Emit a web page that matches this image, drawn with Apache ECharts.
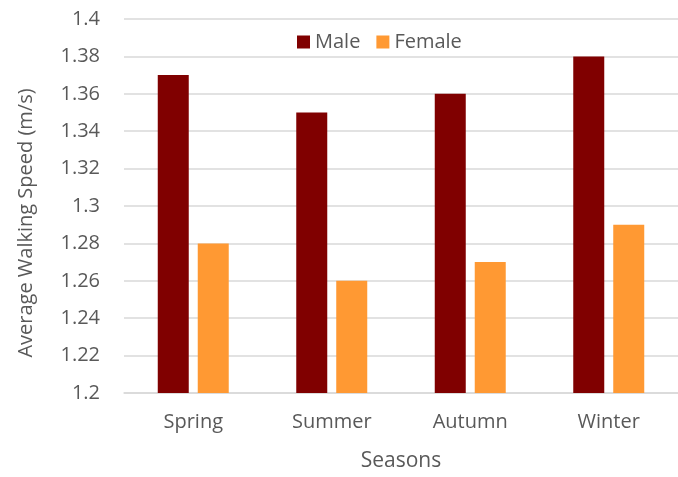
<!DOCTYPE html>
<html>
<head>
<meta charset="utf-8">
<script src="https://cdn.jsdelivr.net/npm/echarts@6/dist/echarts.min.js"></script>
<style>
  html, body { margin: 0; padding: 0; background: #fff; }
  #chart { width: 678px; height: 477px; }
</style>
</head>
<body>
<div id="chart"></div>
<script>
// Average walking speed by season, split by sex
const seasons = ['Spring', 'Summer', 'Autumn', 'Winter'];
const maleSpeed = [1.37, 1.35, 1.36, 1.38];
const femaleSpeed = [1.28, 1.26, 1.27, 1.29];

const textColor = '#595959';
const fontFamily = '"Open Sans", "Noto Sans", sans-serif';

const chart = echarts.init(document.getElementById('chart'), null, { renderer: 'canvas' });

chart.setOption({
  animation: false,
  textStyle: { fontFamily: fontFamily, color: textColor },
  grid: { left: 124, width: 560, top: 19, bottom: 82, containLabel: false },
  legend: {
    left: 292,
    top: 27,
    itemWidth: 13,
    itemHeight: 13,
    itemGap: 16,
    icon: 'rect',
    textStyle: { fontSize: 20, color: textColor, fontFamily: fontFamily },
    data: ['Male', 'Female']
  },
  xAxis: {
    type: 'category',
    data: seasons,
    axisTick: { show: false },
    axisLine: { lineStyle: { color: '#d9d9d9', width: 1.5 } },
    axisLabel: { fontSize: 20, color: textColor, margin: 19 },
    name: 'Seasons',
    nameLocation: 'middle',
    nameGap: 58,
    nameTextStyle: { fontSize: 21, color: textColor }
  },
  yAxis: {
    type: 'value',
    min: 1.2,
    max: 1.4,
    interval: 0.02,
    axisLine: { show: false },
    axisTick: { show: false },
    splitLine: { lineStyle: { color: '#d9d9d9', width: 1.5 } },
    axisLabel: {
      fontSize: 20,
      color: textColor,
      margin: 24,
      formatter: function (v) { return String(parseFloat(v.toFixed(2))); }
    },
    name: 'Average Walking Speed (m/s)',
    nameLocation: 'middle',
    nameGap: 88,
    nameRotate: 90,
    nameTextStyle: { fontSize: 20, color: textColor, padding: [0, 34, 0, 0] }
  },
  series: [
    {
      name: 'Male',
      type: 'bar',
      data: maleSpeed,
      barWidth: 31,
      barGap: '29%',
      itemStyle: { color: '#800000' }
    },
    {
      name: 'Female',
      type: 'bar',
      data: femaleSpeed,
      barWidth: 31,
      itemStyle: { color: '#ff9933' }
    }
  ]
});
</script>
</body>
</html>
